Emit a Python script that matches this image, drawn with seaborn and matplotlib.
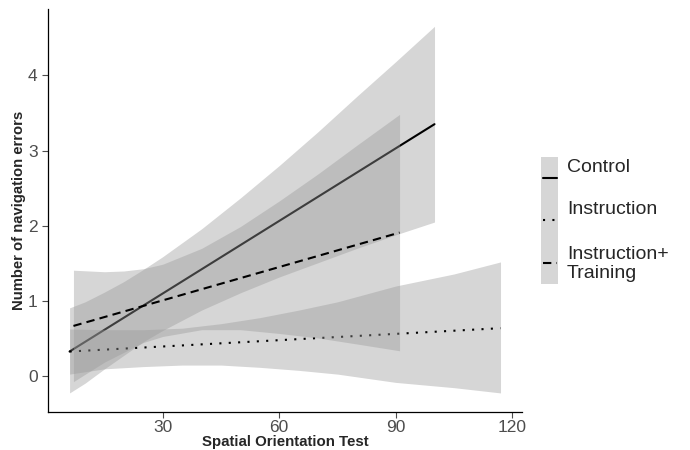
import pandas as pd
import matplotlib.pyplot as plt
import seaborn as sns
from matplotlib.patches import Rectangle
from matplotlib.lines import Line2D

# fitted lines, start / end points
ctrl_x = [6, 100]
ctrl_y = [0.33, 3.35]
instr_x = [6, 117]
instr_y = [0.33, 0.64]
it_x = [7, 91]
it_y = [0.67, 1.91]

# confidence bands read at a few x positions
ctrl_bx = [6, 10, 15, 20, 25, 30, 40, 50, 60, 70, 80, 90, 100]
ctrl_lo = [-0.22, -0.09, 0.10, 0.28, 0.46, 0.61, 0.88, 1.11, 1.32, 1.51, 1.70, 1.88, 2.05]
ctrl_hi = [0.91, 0.99, 1.12, 1.26, 1.42, 1.59, 1.96, 2.37, 2.80, 3.25, 3.72, 4.18, 4.65]

instr_bx = [6, 15, 25, 35, 45, 55, 65, 75, 90, 105, 117]
instr_lo = [0.03, 0.10, 0.13, 0.15, 0.15, 0.12, 0.08, 0.03, -0.08, -0.15, -0.22]
instr_hi = [0.63, 0.62, 0.62, 0.64, 0.70, 0.78, 0.88, 0.99, 1.20, 1.36, 1.52]

it_bx = [7, 15, 20, 25, 30, 40, 50, 60, 70, 80, 91]
it_lo = [-0.07, 0.19, 0.32, 0.45, 0.53, 0.62, 0.62, 0.57, 0.51, 0.43, 0.34]
it_hi = [1.41, 1.39, 1.40, 1.43, 1.49, 1.70, 1.99, 2.33, 2.69, 3.07, 3.48]

labels = ['Control', 'Instruction', 'Instruction+\nTraining']
x_ticks = [30, 60, 90, 120]
y_ticks = [0, 1, 2, 3, 4]

sns.set_style('ticks')
plt.rcParams['font.family'] = ['Liberation Sans', 'DejaVu Sans']

fig = plt.figure(figsize=(6.9, 4.5), dpi=100)
ax = fig.add_axes([0.0696, 0.085, 0.687, 0.895])

band = dict(color='#999999', alpha=0.4, lw=0)
lw = 1.5

groups = [
    (ctrl_x, ctrl_y, ctrl_bx, ctrl_lo, ctrl_hi, ''),
    (instr_x, instr_y, instr_bx, instr_lo, instr_hi, (1, 3.5)),
    (it_x, it_y, it_bx, it_lo, it_hi, (4, 2.5)),
]
# ribbon then line for each group, so later ribbons lie over earlier lines
for i, (gx, gy, bx, lo, hi, dash) in enumerate(groups):
    ax.fill_between(bx, lo, hi, zorder=2 + 2 * i, **band)
    df = pd.DataFrame({'x': gx, 'y': gy, 'g': 'a'})
    sns.lineplot(data=df, x='x', y='y', style='g', dashes=[dash], color='black',
                 lw=lw, legend=False, ax=ax, zorder=3 + 2 * i)

ax.set_xlim(0.45, 122.55)
ax.set_ylim(-0.47, 4.88)
ax.set_xticks(x_ticks)
ax.set_yticks(y_ticks)
ax.tick_params(colors='#4d4d4d', labelsize=12.5, length=4, width=0.8)
ax.tick_params(axis='x', pad=2)
for s in ['left', 'bottom']:
    ax.spines[s].set_color('black')
    ax.spines[s].set_linewidth(0.9)
sns.despine(ax=ax)
ax.set_xlabel('Spatial Orientation Test', fontsize=10.8, fontweight='bold', labelpad=0)
ax.set_ylabel('Number of navigation errors', fontsize=10.7, fontweight='bold')
ax.yaxis.set_label_coords(-0.047, 0.5)

# legend drawn by hand: grey key column with line samples
W, H = 690, 450
fig.add_artist(Rectangle((541 / W, 1 - 284 / H), 17 / W, 127 / H,
                         transform=fig.transFigure, color='#d6d6d6', lw=0))
key_y = [178, 220, 263]
key_ls = ['-', (0, (1, 3.5)), (0, (4, 2.5))]
text_y = [168, 210, 264]
for ky, ls, ty, lab in zip(key_y, key_ls, text_y, labels):
    fig.add_artist(Line2D([543 / W, 557 / W], [1 - ky / H, 1 - ky / H],
                          transform=fig.transFigure, color='black', lw=lw, ls=ls))
    fig.text(567 / W, 1 - ty / H, lab, fontsize=14, va='center', ha='left',
             linespacing=1.1)

fig.savefig('out.png', dpi=100)
